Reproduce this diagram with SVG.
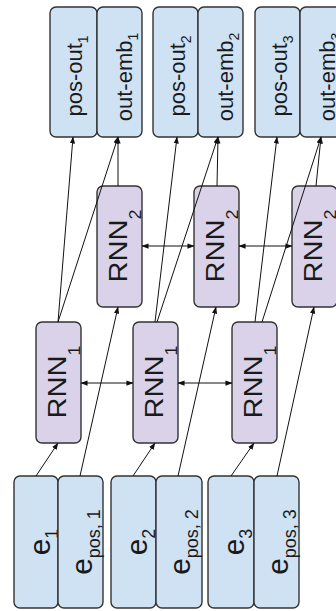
<svg xmlns="http://www.w3.org/2000/svg" width="336" height="611" viewBox="0 0 336 611">
<defs>
<marker id="ah" viewBox="0 0 8 6" refX="7.5" refY="3" markerWidth="7" markerHeight="5.5" markerUnits="userSpaceOnUse" orient="auto-start-reverse">
<path d="M0,0 L8,3 L0,6 z" fill="#111"/>
</marker>
<style>
.blue{fill:#cfe2f3;stroke:#333;stroke-width:1.4}
.purple{fill:#d9d2e9;stroke:#333;stroke-width:1.4}
text{font-family:"Liberation Sans",Arial,sans-serif;fill:#1a1a1a;text-anchor:middle}
.t22{font-size:22px}
.t26{font-size:26px}
.t30{font-size:30px}
.s14{font-size:14px}
.s16{font-size:16px}
.s18{font-size:18px}
.c{stroke:#111;stroke-width:1;fill:none;marker-end:url(#ah)}
.bi{marker-start:url(#ah)}
</style>
</defs>
<rect width="336" height="611" fill="#fff"/>

<g id="pos-out1"><rect class="blue" x="50" y="7" width="47" height="130" rx="6"/><text class="t22" transform="translate(82,76) rotate(-90)">pos-out<tspan class="s14" dy="6">1</tspan></text></g>
<g id="out-emb1"><rect class="blue" x="97" y="7" width="45" height="130" rx="6"/><text class="t22" transform="translate(132,77) rotate(-90)">out-emb<tspan class="s14" dy="6">1</tspan></text></g>
<g id="pos-out2"><rect class="blue" x="153" y="7" width="45" height="130" rx="6"/><text class="t22" transform="translate(185,76) rotate(-90)">pos-out<tspan class="s14" dy="6">2</tspan></text></g>
<g id="out-emb2"><rect class="blue" x="198" y="7" width="45" height="130" rx="6"/><text class="t22" transform="translate(233,77) rotate(-90)">out-emb<tspan class="s14" dy="6">2</tspan></text></g>
<g id="pos-out3"><rect class="blue" x="255" y="7" width="45" height="130" rx="6"/><text class="t22" transform="translate(287,76) rotate(-90)">pos-out<tspan class="s14" dy="6">3</tspan></text></g>
<g id="out-emb3"><rect class="blue" x="300" y="7" width="45" height="130" rx="6"/><text class="t22" transform="translate(335,77) rotate(-90)">out-emb<tspan class="s14" dy="6">3</tspan></text></g>

<g id="rnn2-1"><rect class="purple" x="97" y="186" width="45" height="121" rx="6"/><text class="t26" transform="translate(127,246) rotate(-90) scale(1.12,1)">RNN<tspan class="s16" dy="14">2</tspan></text></g>
<g id="rnn2-2"><rect class="purple" x="194" y="186" width="45" height="121" rx="6"/><text class="t26" transform="translate(224,246) rotate(-90) scale(1.12,1)">RNN<tspan class="s16" dy="14">2</tspan></text></g>
<g id="rnn2-3"><rect class="purple" x="292" y="186" width="45" height="121" rx="6"/><text class="t26" transform="translate(322,246) rotate(-90) scale(1.12,1)">RNN<tspan class="s16" dy="14">2</tspan></text></g>

<g id="rnn1-1"><rect class="purple" x="36" y="322" width="45" height="121" rx="6"/><text class="t26" transform="translate(65.5,382) rotate(-90) scale(1.12,1)">RNN<tspan class="s16" dy="14">1</tspan></text></g>
<g id="rnn1-2"><rect class="purple" x="133" y="322" width="45" height="121" rx="6"/><text class="t26" transform="translate(162.5,382) rotate(-90) scale(1.12,1)">RNN<tspan class="s16" dy="14">1</tspan></text></g>
<g id="rnn1-3"><rect class="purple" x="232" y="322" width="45" height="121" rx="6"/><text class="t26" transform="translate(261.5,382) rotate(-90) scale(1.12,1)">RNN<tspan class="s16" dy="14">1</tspan></text></g>

<g id="e1"><rect class="blue" x="14" y="476" width="44" height="132" rx="6"/><text class="t30" transform="translate(50,542) rotate(-90)">e<tspan class="s18" dy="8">1</tspan></text></g>
<g id="epos1"><rect class="blue" x="58" y="476" width="45" height="132" rx="6"/><text class="t30" transform="translate(92,542) rotate(-90)">e<tspan class="s18" dy="8">pos, 1</tspan></text></g>
<g id="e2"><rect class="blue" x="111" y="476" width="45" height="132" rx="6"/><text class="t30" transform="translate(147,542) rotate(-90)">e<tspan class="s18" dy="8">2</tspan></text></g>
<g id="epos2"><rect class="blue" x="156" y="476" width="46" height="132" rx="6"/><text class="t30" transform="translate(190,542) rotate(-90)">e<tspan class="s18" dy="8">pos, 2</tspan></text></g>
<g id="e3"><rect class="blue" x="208" y="476" width="46" height="132" rx="6"/><text class="t30" transform="translate(244,542) rotate(-90)">e<tspan class="s18" dy="8">3</tspan></text></g>
<g id="epos3"><rect class="blue" x="254" y="476" width="45" height="132" rx="6"/><text class="t30" transform="translate(288,542) rotate(-90)">e<tspan class="s18" dy="8">pos, 3</tspan></text></g>

<g id="connectors">
<line class="c" x1="36" y1="476" x2="58" y2="443"/>
<line class="c" x1="80" y1="476" x2="118" y2="307"/>
<line class="c" x1="58" y1="322" x2="73" y2="137"/>
<line class="c" x1="58" y1="322" x2="118" y2="137"/>
<line class="c" x1="118" y1="186" x2="118" y2="137"/>

<line class="c" x1="133" y1="476" x2="155" y2="443"/>
<line class="c" x1="178" y1="476" x2="216" y2="307"/>
<line class="c" x1="155" y1="322" x2="177" y2="137"/>
<line class="c" x1="157" y1="322" x2="218" y2="137"/>
<line class="c" x1="217" y1="186" x2="218" y2="137"/>

<line class="c" x1="231" y1="476" x2="254" y2="443"/>
<line class="c" x1="277" y1="476" x2="314" y2="307"/>
<line class="c" x1="255" y1="322" x2="277" y2="137"/>
<line class="c" x1="262" y1="322" x2="321" y2="137"/>
<line class="c" x1="316" y1="186" x2="321" y2="137"/>

<line class="c bi" x1="81" y1="383" x2="133" y2="383"/>
<line class="c bi" x1="178" y1="383" x2="232" y2="383"/>
<line class="c bi" x1="142" y1="246" x2="194" y2="246"/>
<line class="c bi" x1="239" y1="246" x2="292" y2="246"/>
</g>
</svg>
